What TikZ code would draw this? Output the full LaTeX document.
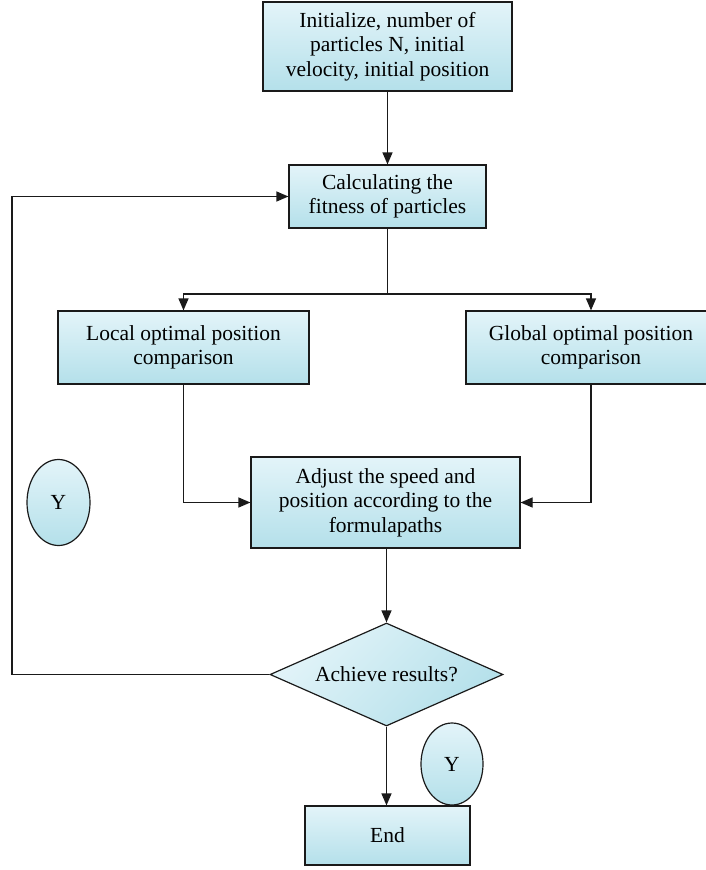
\documentclass[tikz,border=0pt]{standalone}
\usepackage{fontspec}
\setmainfont{Liberation Serif}
\usetikzlibrary{arrows.meta,shapes.geometric}
\definecolor{ctop}{HTML}{E3F4F9}
\definecolor{cbot}{HTML}{B4E0EA}
\definecolor{linec}{HTML}{1A1A1A}
\tikzset{
  box/.style={draw=linec, line width=1.2pt, top color=ctop, bottom color=cbot,
    align=center, inner sep=0pt, font=\fontsize{21.5}{24.5}\selectfont},
  oval/.style={box, ellipse},
  decision/.style={box, diamond, shape aspect=2.26, shading angle=45},
  conn/.style={draw=linec, line width=1.2pt},
  arr/.style={conn, -{Triangle[length=12pt,width=10pt]}},
}
\begin{document}
\begin{tikzpicture}[x=1pt,y=-1pt]
\useasboundingbox (0,0) rectangle (706,870);
\node[box, minimum width=249pt, minimum height=89pt] (init) at (387.5,46.5)
  {Initialize, number of\\particles N, initial\\velocity, initial position};
\node[box, minimum width=197pt, minimum height=63pt] (calc) at (387.5,196.5)
  {Calculating the\\fitness of particles};
\node[box, minimum width=251pt, minimum height=73pt] (local) at (183.5,347.5)
  {Local optimal position\\comparison};
\node[box, minimum width=250pt, minimum height=73pt] (global) at (591,347.5)
  {Global optimal position\\comparison};
\node[box, minimum width=269pt, minimum height=91pt] (adjust) at (385.5,502.5)
  {Adjust the speed and\\position according to the\\formulapaths};
\node[oval, minimum width=63pt, minimum height=86pt] (y1) at (58.5,502.5) {Y};
\node[decision, minimum width=233pt, minimum height=103pt] (dec) at (386.5,674.5)
  {Achieve results?};
\node[oval, minimum width=62pt, minimum height=82pt] (y2) at (452,764) {Y};
\node[box, minimum width=165pt, minimum height=59pt] (end) at (387.5,835.5) {End};
\coordinate (split) at (387.5,294);
\coordinate (loopc) at (12,674.5);
\draw[arr] (init) -- (calc);
\draw[conn] (calc.south) -- (split);
\draw[arr] (split) -| (local.north);
\draw[arr] (split) -| (global.north);
\draw[arr] (local.south) |- (adjust.west);
\draw[arr] (global.south) |- (adjust.east);
\draw[arr] (adjust.south -| dec.north) -- (dec.north);
\draw[arr] (dec.west) -- (loopc) |- (calc.west);
\draw[arr] (dec.south) -- (end.north -| dec.south);
\end{tikzpicture}
\end{document}
